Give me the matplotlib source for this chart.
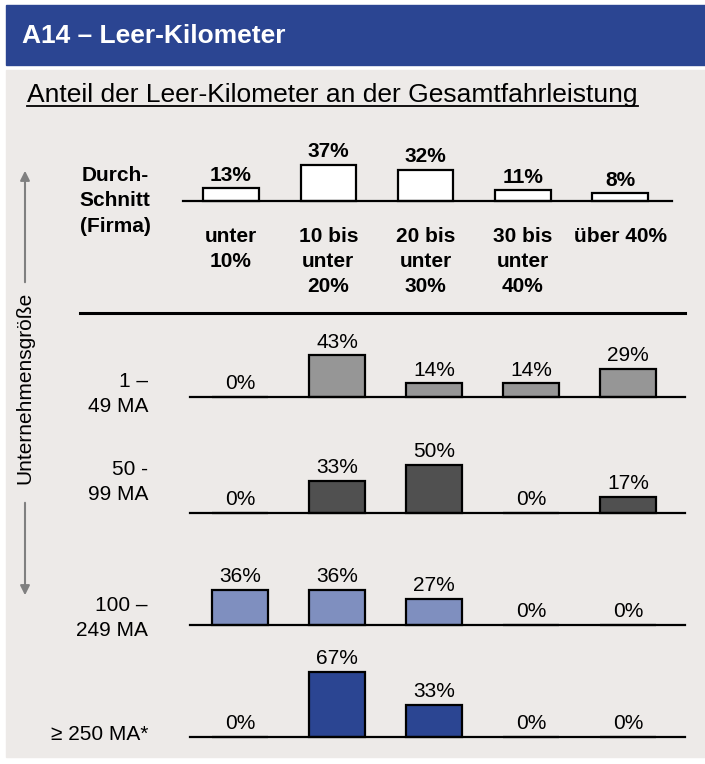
# Anteil der Leer-Kilometer nach Unternehmensgröße

import matplotlib
matplotlib.use("Agg")
from matplotlib import pyplot as plt
from matplotlib.patches import Rectangle, FancyArrowPatch
from matplotlib.lines import Line2D

categories = ["unter\n10%", "10 bis\nunter\n20%", "20 bis\nunter\n30%", "30 bis\nunter\n40%", "über 40%"]
average = [13, 37, 32, 11, 8]

size_groups = ["1 –\n49 MA", "50 -\n99 MA", "100 –\n249 MA", "≥ 250 MA*"]
share_1_49 = [0, 43, 14, 14, 29]
share_50_99 = [0, 33, 50, 0, 17]
share_100_249 = [36, 36, 27, 0, 0]
share_250 = [0, 67, 33, 0, 0]

plt.rcParams['font.family'] = ['Liberation Sans', 'DejaVu Sans']

W, H = 705, 764
BLUE = '#2b4592'
PANEL = '#edeae8'
row_colors = ['#969696', '#505050', '#7f8fbf', BLUE]
FS = 15


def fx(px):
    return px / W


def fy(py):
    return 1 - py / H


fig = plt.figure(figsize=(W / 100, H / 100), dpi=100)
fig.patch.set_facecolor('white')

# bandeau + fond
fig.patches.append(Rectangle((fx(6), fy(65)), fx(705) - fx(6), 60 / H,
                             transform=fig.transFigure, color=BLUE, zorder=-2))
fig.patches.append(Rectangle((fx(6), fy(757)), fx(705) - fx(6), 687 / H,
                             transform=fig.transFigure, color=PANEL, zorder=-2))
fig.text(fx(22), fy(36), "A14 – Leer-Kilometer", color='white', fontsize=19,
         fontweight='bold', va='center', ha='left')

sub = fig.text(fx(27), fy(102), "Anteil der Leer-Kilometer an der Gesamtfahrleistung",
               fontsize=19, va='baseline', ha='left')
fig.canvas.draw()
bb = sub.get_window_extent()
fig.lines.append(Line2D([bb.x0 / W, bb.x1 / W], [fy(106), fy(106)],
                        transform=fig.transFigure, color='black', lw=1.3))

PX_PER_PCT = 0.97
YMAX = 70


def make_axes(x0, x1, baseline, first_center, step):
    ax = fig.add_axes([fx(x0), fy(baseline), fx(x1) - fx(x0), YMAX * PX_PER_PCT / H])
    ax.set_zorder(2)
    ax.patch.set_visible(False)
    ax.set_xlim(-(first_center - x0) / step, (x1 - first_center) / step)
    ax.set_ylim(0, YMAX)
    ax.axis('off')
    ax.axhline(0, color='black', lw=1.6, clip_on=False)
    return ax


def draw_bars(ax, values, color, bold):
    xs = range(len(values))
    ax.bar(xs, values, width=0.57, color=color, edgecolor='black', lw=1.6, clip_on=False)
    for x, v in zip(xs, values):
        ax.annotate(f"{v}%", (x, v), xytext=(0, 5.5), textcoords='offset points',
                    ha='center', va='baseline', fontsize=FS,
                    fontweight='bold' if bold else 'normal')


# Durchschnitt (Firma)
ax = make_axes(183, 672, 201, 231, 97.3)
draw_bars(ax, average, 'white', True)
for i, cat in enumerate(categories):
    ax.annotate(cat, (i, 0), xytext=(0, -18.5), textcoords='offset points',
                ha='center', va='top', fontsize=FS, fontweight='bold', linespacing=1.42)
fig.text(fx(115), fy(201), "Durch-\nSchnitt\n(Firma)", ha='center', va='center',
         fontsize=FS, fontweight='bold', linespacing=1.42)

fig.lines.append(Line2D([fx(80), fx(685)], [fy(313), fy(313)],
                        transform=fig.transFigure, color='black', lw=2.2))

rows = [share_1_49, share_50_99, share_100_249, share_250]
baselines = [397, 513, 625, 737]
label_y = [394, 482, 618, 735]
for vals, base, col, name, ly in zip(rows, baselines, row_colors, size_groups, label_y):
    ax = make_axes(190, 685, base, 240, 97)
    draw_bars(ax, vals, col, False)
    fig.text(fx(148), fy(ly), name, ha='right', va='center', fontsize=FS,
             linespacing=1.42)

# flèche Unternehmensgröße
arrow_col = '#808080'
fig.patches.append(FancyArrowPatch((fx(25), fy(285)), (fx(25), fy(168)),
                                   transform=fig.transFigure, arrowstyle='-|>',
                                   mutation_scale=14, color=arrow_col, lw=1.5))
fig.patches.append(FancyArrowPatch((fx(25), fy(500)), (fx(25), fy(598)),
                                   transform=fig.transFigure, arrowstyle='-|>',
                                   mutation_scale=14, color=arrow_col, lw=1.5))
fig.text(fx(25), fy(388), "Unternehmensgröße", rotation=90, ha='center', va='center',
         fontsize=FS)

fig.savefig('out.png', dpi=100)
